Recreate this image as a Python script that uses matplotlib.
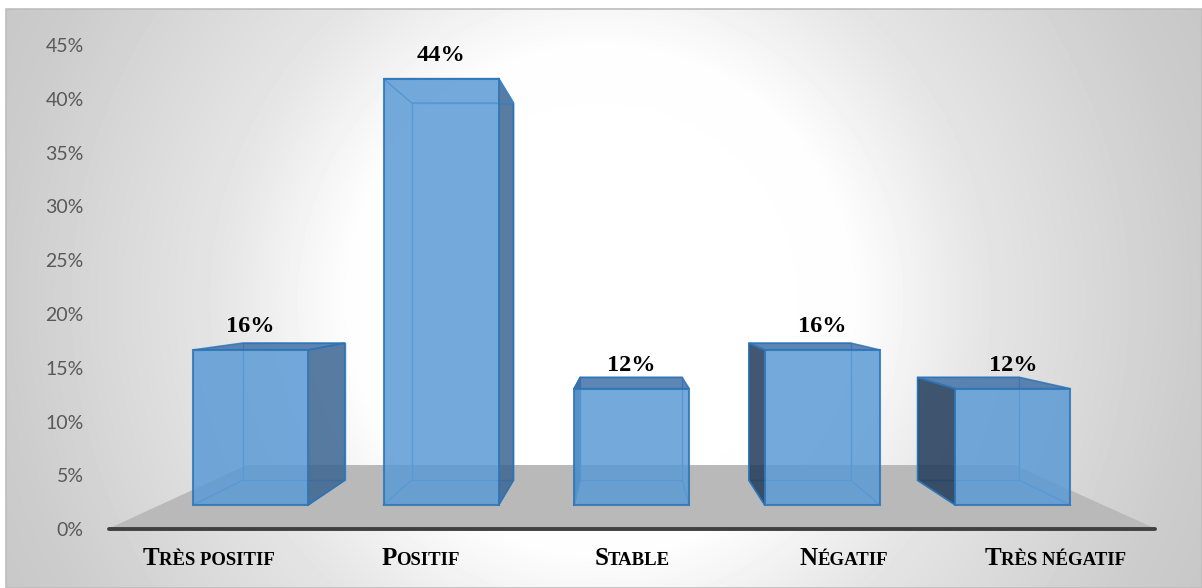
import numpy as np
import matplotlib
matplotlib.use('Agg')
import matplotlib.pyplot as plt
from matplotlib.patches import Polygon, Rectangle
from matplotlib.offsetbox import TextArea, HPacker, AnnotationBbox

categories = ['Très positif', 'Positif', 'Stable', 'Négatif', 'Très négatif']
values = [16, 44, 12, 16, 12]
value_labels = ['16%', '44%', '12%', '16%', '12%']
y_ticks = [0, 5, 10, 15, 20, 25, 30, 35, 40, 45]

W, H = 1202, 588
# simple one-point perspective, everything in pixels
VX, VY = 627, 290          # vanishing point
X0, DX = 250.5, 190.6      # first category centre / spacing on the bar front plane
Y0, PX_PCT = 505, 9.69     # baseline and pixels per percent on the bar front plane
HALF_W = 0.302             # half bar width, category units
S_FRONT, S_BACK = 1.0, 0.885
S_FLOOR_F, S_FLOOR_B = 1.11, 0.814
FLOOR_L, FLOOR_R = -0.475, 4.473

FACE = '#5b9bd5'
EDGE = '#2e75b6'
SERIF = ['Liberation Serif', 'DejaVu Serif']


def proj(xc, v, s):
    x = X0 + xc * DX
    y = Y0 - v * PX_PCT
    return VX + (x - VX) * s, VY + (y - VY) * s


fig = plt.figure(figsize=(W / 100, H / 100), dpi=100)
ax = fig.add_axes([0, 0, 1, 1])
ax.set_axis_off()

# background radial gradient (white centre, grey edges)
yy, xx = np.mgrid[9:H, 6:W]
r = np.sqrt(((xx - 600) / 600.0) ** 2 + ((yy - 300) / 600.0) ** 2)
shade = np.interp(r, [0, 0.42, 0.63, 1.0, 1.25], [1, 0.995, 0.9, 0.8, 0.76])
ax.imshow(shade, cmap='gray', vmin=0, vmax=1, extent=(6, W, H, 9),
          aspect='auto', interpolation='bilinear', zorder=0)
ax.add_patch(Rectangle((6, 9), W - 6, H - 9, fill=False, ec='#bdbdbd', lw=1.2, zorder=1))

# floor
floor = [proj(FLOOR_L, 0, S_FLOOR_F), proj(FLOOR_R, 0, S_FLOOR_F),
         proj(FLOOR_R, 0, S_FLOOR_B), proj(FLOOR_L, 0, S_FLOOR_B)]
ax.add_patch(Polygon(floor, closed=True, fc='#b9b9b9', ec='none', zorder=2))
xl, yl = proj(FLOOR_L, 0, S_FLOOR_F)
xr, yr = proj(FLOOR_R, 0, S_FLOOR_F)
ax.plot([xl, xr], [yl, yr], color='#404040', lw=2.8, solid_capstyle='round', zorder=3)

# y tick labels on the front floor plane
for t in y_ticks:
    tx, ty = proj(FLOOR_L, t, S_FLOOR_F)
    ax.text(tx - 25, ty + 2, f'{t}%', ha='right', va='center', fontsize=14,
            family='Lato', color='#595959', zorder=10)

# bars
for i, v in enumerate(values):
    lx, rx = i - HALF_W, i + HALF_W
    fbl, fbr = proj(lx, 0, S_FRONT), proj(rx, 0, S_FRONT)
    ftl, ftr = proj(lx, v, S_FRONT), proj(rx, v, S_FRONT)
    bbl, bbr = proj(lx, 0, S_BACK), proj(rx, 0, S_BACK)
    btl, btr = proj(lx, v, S_BACK), proj(rx, v, S_BACK)
    z = 4 + i * 0.1

    # back edges, seen through the front face
    ax.add_patch(Polygon([bbl, bbr, btr, btl], closed=True, fc='none',
                         ec='#4a90d0', lw=1.0, zorder=z))
    for a, b in [(fbl, bbl), (fbr, bbr)]:
        ax.plot([a[0], b[0]], [a[1], b[1]], color='#4a90d0', lw=1.0, zorder=z)

    # side face
    cx = proj(i, 0, S_FRONT)[0]
    if cx < VX:
        side = [fbr, bbr, btr, ftr]
        side_col = '#3c6592'
    else:
        side = [fbl, bbl, btl, ftl]
        side_col = '#213a59'
    ax.add_patch(Polygon(side, closed=True, fc=side_col, alpha=0.85, ec='none',
                         zorder=z + 0.01))
    ax.plot([p[0] for p in side], [p[1] for p in side], color=EDGE, lw=1.2,
            zorder=z + 0.02)

    # top face: filled when seen from above, only edges when seen from below
    if ftl[1] > VY:
        ax.add_patch(Polygon([ftl, ftr, btr, btl], closed=True, fc='#4271a7',
                             alpha=0.85, ec=EDGE, lw=1.2, zorder=z + 0.03))
    else:
        ax.add_patch(Polygon([ftl, ftr, btr, btl], closed=True, fc='none',
                             ec='#3f86c8', lw=1.1, zorder=z + 0.03))

    # front face
    ax.add_patch(Polygon([fbl, fbr, ftr, ftl], closed=True, fc=FACE, alpha=0.85,
                         ec=EDGE, lw=1.5, zorder=z + 0.04))

    lx_, ly_ = proj(i, v, S_FRONT)
    ax.text(lx_, ly_ - 23, value_labels[i], ha='center', va='center', fontsize=17.5,
            family=SERIF, weight='bold', color='black', zorder=10)

# category labels in small caps
for i, name in enumerate(categories):
    px, py = proj(i, 0, S_FLOOR_F)
    big = TextArea(name[0].upper(), textprops=dict(fontsize=18, family=SERIF,
                                                   weight='bold', color='black'))
    small = TextArea(name[1:].upper(), textprops=dict(fontsize=13.5, family=SERIF,
                                                      weight='bold', color='black'))
    box = HPacker(children=[big, small], align='baseline', pad=0, sep=0)
    ab = AnnotationBbox(box, (px, py + 30), xycoords='data', box_alignment=(0.5, 0.5),
                        frameon=False, pad=0, zorder=10)
    ax.add_artist(ab)

ax.set_xlim(0, W)
ax.set_ylim(H, 0)
fig.savefig('out.png', dpi=100, facecolor='white')
